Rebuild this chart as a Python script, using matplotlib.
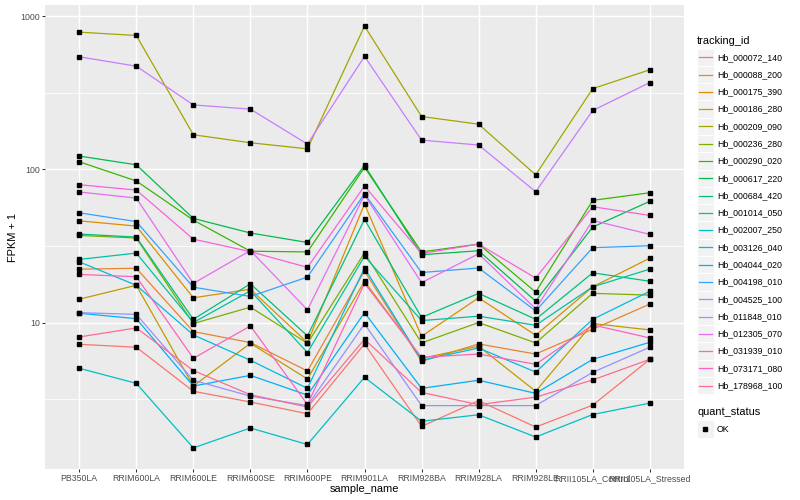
import numpy as np
import matplotlib
matplotlib.use("Agg")
import matplotlib.pyplot as plt
from matplotlib.lines import Line2D
from matplotlib.patches import Rectangle

plt.rcParams['font.family'] = ['Liberation Sans', 'DejaVu Sans']

samples = ["PB350LA", "RRIM600LA", "RRIM600LE", "RRIM600SE", "RRIM600PE", "RRIM901LA",
           "RRIM928BA", "RRIM928LA", "RRIM928LE", "RRII105LA_Control", "RRII105LA_Stressed"]

tracking_ids = ["Hb_000072_140", "Hb_000088_200", "Hb_000175_390", "Hb_000186_280",
                "Hb_000209_090", "Hb_000236_280", "Hb_000290_020", "Hb_000617_220",
                "Hb_000684_420", "Hb_001014_050", "Hb_002007_250", "Hb_003126_040",
                "Hb_004044_020", "Hb_004198_010", "Hb_004525_100", "Hb_011848_010",
                "Hb_012305_070", "Hb_031939_010", "Hb_073171_080", "Hb_178968_100"]

colors = ["#F8766D", "#EA8331", "#D89000", "#C09B00", "#A3A500", "#7CAE00", "#39B600",
          "#00BB4E", "#00BF7D", "#00C1A3", "#00BFC4", "#00BAE0", "#00B0F6", "#35A2FF",
          "#9590FF", "#C77CFF", "#E76BF3", "#FA62DB", "#FF62BC", "#FF6C91"]

# FPKM + 1 per sample (order of `samples`)
Hb_000072_140 = [7.21, 6.9, 3.56, 3.03, 2.54, 7.25, 2.1, 3.09, 2.08, 2.89, 5.75]
Hb_000088_200 = [22.3, 22.6, 8.73, 7.4, 4.83, 21.7, 5.58, 7.25, 6.23, 9.04, 13.2]
Hb_000175_390 = [46.1, 42.6, 14.5, 16.5, 7.4, 59.3, 8.13, 14.5, 8.26, 17.1, 26.3]
Hb_000186_280 = [14.2, 17.5, 3.85, 7.32, 4.28, 18.6, 5.84, 7.0, 3.56, 9.85, 8.95]
Hb_000209_090 = [785, 747, 168, 149, 136, 860, 221, 197, 92, 336, 446]
Hb_000236_280 = [37.0, 35.6, 9.85, 12.6, 7.32, 28.5, 7.36, 10.0, 7.36, 15.5, 15.1]
Hb_000290_020 = [112, 83.9, 46.6, 29.2, 28.9, 103, 28.9, 32.5, 15.8, 62.7, 70.3]
Hb_000617_220 = [122, 107, 47.8, 38.4, 33.3, 106, 27.7, 29.4, 13.8, 42.0, 61.8]
Hb_000684_420 = [37.8, 36.1, 10.5, 17.9, 8.18, 47.1, 10.8, 15.5, 10.5, 21.1, 18.6]
Hb_001014_050 = [25.8, 28.4, 10.0, 16.1, 6.37, 27.1, 10.3, 11.0, 9.6, 17.1, 22.3]
Hb_002007_250 = [5.03, 4.01, 1.52, 2.05, 1.6, 4.39, 2.27, 2.5, 1.79, 2.51, 2.98]
Hb_003126_040 = [24.9, 17.5, 8.3, 5.67, 3.72, 22.7, 5.67, 6.82, 4.75, 10.5, 16.0]
Hb_004044_020 = [11.5, 10.6, 3.85, 4.52, 3.36, 11.6, 3.72, 4.2, 3.45, 5.75, 7.43]
Hb_004198_010 = [52.0, 45.6, 17.0, 14.8, 19.8, 69.3, 21.2, 22.7, 11.9, 30.8, 31.7]
Hb_004525_100 = [11.6, 11.3, 4.2, 3.31, 2.87, 9.79, 2.87, 2.87, 2.87, 4.73, 6.9]
Hb_011848_010 = [542, 471, 263, 247, 146, 545, 155, 144, 71.4, 242, 368]
Hb_012305_070 = [71.1, 64.9, 18.0, 29.5, 12.1, 68.0, 18.2, 28.1, 12.3, 46.4, 37.6]
Hb_031939_010 = [79.3, 73.2, 35.0, 29.0, 22.9, 77.8, 28.2, 32.5, 19.5, 57.0, 50.0]
Hb_073171_080 = [20.6, 19.9, 5.84, 9.5, 2.92, 18.0, 5.93, 6.23, 5.34, 9.65, 7.93]
Hb_178968_100 = [8.05, 9.22, 4.86, 3.38, 2.81, 7.78, 3.5, 2.91, 3.26, 4.22, 5.75]

series = [Hb_000072_140, Hb_000088_200, Hb_000175_390, Hb_000186_280, Hb_000209_090,
          Hb_000236_280, Hb_000290_020, Hb_000617_220, Hb_000684_420, Hb_001014_050,
          Hb_002007_250, Hb_003126_040, Hb_004044_020, Hb_004198_010, Hb_004525_100,
          Hb_011848_010, Hb_012305_070, Hb_031939_010, Hb_073171_080, Hb_178968_100]

W, H = 800, 500
fig = plt.figure(figsize=(8, 5), dpi=100)
fig.patch.set_facecolor("white")
ax = fig.add_axes([45 / W, 1 - 469 / H, 639 / W, 464 / H])
ax.set_facecolor("#EBEBEB")

x = np.arange(len(samples))
for vals, col in zip(series, colors):
    ax.plot(x, vals, color=col, lw=0.9, zorder=3, solid_capstyle="butt")
for vals in series:
    ax.plot(x, vals, linestyle="none", marker="s", ms=2.3, color="black", zorder=4)

ax.set_yscale("log")
allv = np.concatenate([np.asarray(s, float) for s in series])
lo, hi = np.log10(allv.min()), np.log10(allv.max())
pad = 0.05 * (hi - lo)
ax.set_ylim(10 ** (lo - pad), 10 ** (hi + pad))
ax.set_xlim(-0.6, len(samples) - 0.4)

ax.set_yticks([10, 100, 1000])
ax.set_yticklabels(["10", "100", "1000"])
ax.set_yticks([10 ** 0.5, 10 ** 1.5, 10 ** 2.5], minor=True)
ax.yaxis.set_minor_formatter(matplotlib.ticker.NullFormatter())
ax.set_xticks(x)
ax.set_xticklabels(samples)

ax.grid(which="major", color="white", lw=1.05, zorder=0)
ax.grid(which="minor", axis="y", color="white", lw=0.55, zorder=0)
ax.set_axisbelow(True)
for s in ax.spines.values():
    s.set_visible(False)
ax.tick_params(which="major", length=2.0, width=0.75, color="#333333",
               labelsize=6.3, labelcolor="#4D4D4D", pad=1.5)
ax.tick_params(which="minor", length=0)

ax.set_xlabel("sample_name", fontsize=7.9, color="black", labelpad=1)
ax.set_ylabel("FPKM + 1", fontsize=7.9, color="black", labelpad=2)

# legend (drawn manually in pixel coords)
def fx(px):
    return px / W

def fy(py):
    return 1 - py / H

fig.text(fx(697), fy(40.5), "tracking_id", fontsize=7.9, va="center", ha="left")
step = 17.28
for i, (name, col) in enumerate(zip(tracking_ids, colors)):
    cy = 57.3 + i * step
    fig.add_artist(Rectangle((fx(696.5), fy(cy + step / 2)), 17 / W, step / H,
                             transform=fig.transFigure, facecolor="#F2F2F2",
                             edgecolor="white", lw=0.7))
    fig.add_artist(Line2D([fx(698.5), fx(711.5)], [fy(cy), fy(cy)],
                          transform=fig.transFigure, color=col, lw=0.9))
    fig.text(fx(717), fy(cy), name, fontsize=6.3, va="center", ha="left")

fig.text(fx(697), fy(412.3), "quant_status", fontsize=7.9, va="center", ha="left")
fig.add_artist(Rectangle((fx(696.5), fy(429 + step / 2)), 17 / W, step / H,
                         transform=fig.transFigure, facecolor="#F2F2F2",
                         edgecolor="white", lw=0.7))
fig.add_artist(Line2D([fx(705)], [fy(429)], transform=fig.transFigure,
                      marker="s", ms=2.3, color="black", linestyle="none"))
fig.text(fx(717), fy(429), "OK", fontsize=6.3, va="center", ha="left")

fig.savefig("out.png", dpi=100)
